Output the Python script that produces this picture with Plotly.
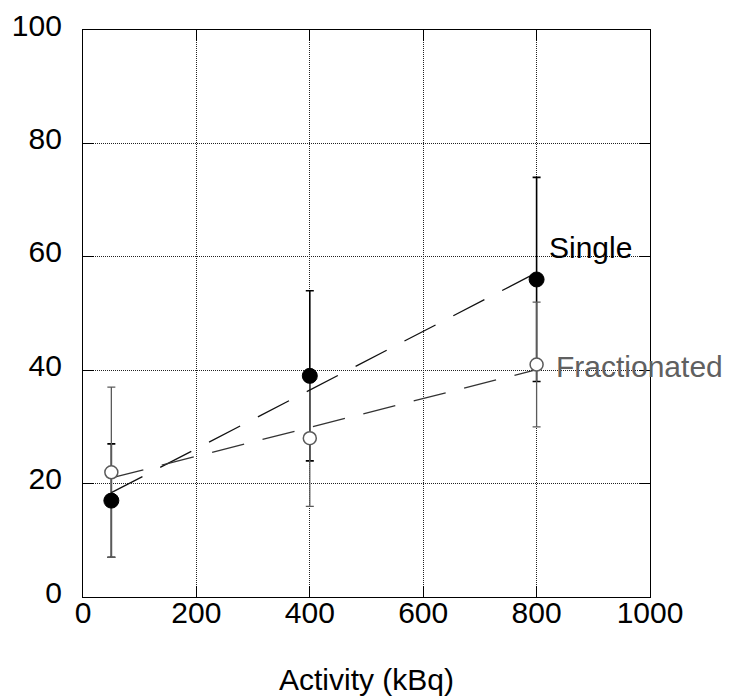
import plotly.graph_objects as go

# ---- data ----
activity = [50, 400, 800]
single_y = [17, 39, 56]
single_err = [10, 15, 18]
fract_y = [22, 28, 41]
fract_err = [15, 12, 11]

fit_x = [50, 800]
single_fit_y = [18.4, 57.2]
fract_fit_y = [21.0, 40.1]

x_ticks = [0, 200, 400, 600, 800, 1000]
y_ticks = [0, 20, 40, 60, 80, 100]

FONT = "Liberation Sans, Arial, sans-serif"
FS = 30

fig = go.Figure()

# error bars first (invisible markers)
fig.add_trace(go.Scatter(
    x=activity, y=single_y, mode="markers",
    marker=dict(size=1, color="rgba(0,0,0,0)"),
    error_y=dict(type="data", array=single_err, visible=True,
                 color="black", thickness=1.6, width=4),
    showlegend=False, hoverinfo="skip"))
fig.add_trace(go.Scatter(
    x=activity, y=fract_y, mode="markers",
    marker=dict(size=1, color="rgba(0,0,0,0)"),
    error_y=dict(type="data", array=fract_err, visible=True,
                 color="#5a5a5a", thickness=1.3, width=4),
    showlegend=False, hoverinfo="skip"))

# fitted dashed lines
fig.add_trace(go.Scatter(
    x=fit_x, y=single_fit_y, mode="lines",
    line=dict(color="#111111", width=1.3, dash="35px,20px"),
    showlegend=False, hoverinfo="skip"))
fig.add_trace(go.Scatter(
    x=fit_x, y=fract_fit_y, mode="lines",
    line=dict(color="#333333", width=1.3, dash="33px,19px"),
    showlegend=False, hoverinfo="skip"))

# markers
fig.add_trace(go.Scatter(
    x=activity, y=single_y, mode="markers", name="Single",
    marker=dict(size=15, color="black", line=dict(color="black", width=1)),
    showlegend=False))
fig.add_trace(go.Scatter(
    x=activity, y=fract_y, mode="markers", name="Fractionated",
    marker=dict(size=13, color="white", line=dict(color="#5a5a5a", width=1.5)),
    showlegend=False))

axis_common = dict(
    showline=True, linecolor="black", linewidth=1.3, mirror="ticks",
    ticks="inside", ticklen=11, tickwidth=1.3, tickcolor="black",
    showgrid=True, gridcolor="#222222", gridwidth=1, griddash="1px,1px",
    zeroline=False, automargin=False,
    tickfont=dict(family=FONT, size=FS, color="black"),
)

fig.update_xaxes(range=[0, 1000], tickvals=x_ticks,
                 ticktext=[str(v) for v in x_ticks],
                 ticklabelstandoff=-11, **axis_common)
fig.update_yaxes(range=[0, 100], tickvals=y_ticks,
                 ticktext=[str(v) for v in y_ticks],
                 ticklabelstandoff=14, ticklabelshift=-5, **axis_common)

fig.add_annotation(x=818, y=61.7, xref="x", yref="y", text="Single",
                   showarrow=False, xanchor="left", yanchor="middle",
                   font=dict(family=FONT, size=FS, color="black"))
fig.add_annotation(x=830, y=40.6, xref="x", yref="y", text="Fractionated",
                   showarrow=False, xanchor="left", yanchor="middle",
                   font=dict(family=FONT, size=FS, color="#606060"))
fig.add_annotation(x=0.5, y=0, xref="paper", yref="paper",
                   text="Activity (kBq)", showarrow=False,
                   xanchor="center", yanchor="middle", yshift=-82,
                   font=dict(family=FONT, size=FS, color="black"))

fig.update_layout(
    width=735, height=696, autosize=False,
    margin=dict(l=83, r=85, t=30, b=99),
    paper_bgcolor="white", plot_bgcolor="white",
    showlegend=False,
)

fig.write_html(
    "out.html",
    config={"displayModeBar": False},
    post_script="document.body.style.margin='0';document.body.style.overflow='hidden';",
)
